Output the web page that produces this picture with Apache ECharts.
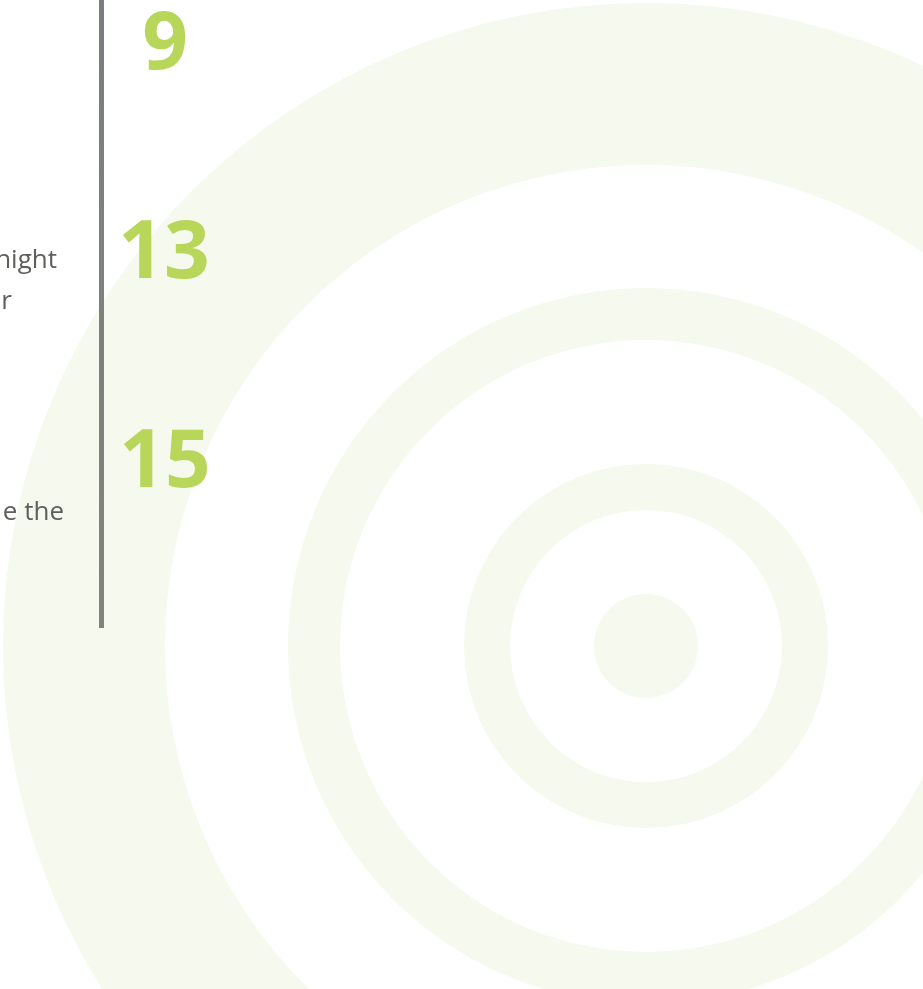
<!DOCTYPE html>
<html>
<head>
<meta charset="utf-8">
<script src="https://cdn.jsdelivr.net/npm/echarts@6/dist/echarts.min.js"></script>
<style>
html,body{margin:0;padding:0;background:#fff;}
#chart{width:923px;height:989px;}
</style>
</head>
<body>
<div id="chart"></div>
<script>
// Values
var statNumbers = ['9', '13', '15'];
var sideTextLines = ['night', 'r', 'e the'];
var ringNames = ['outer', 'middle', 'inner', 'core'];

// Layout (not data)
var ringRadii = [[481, 643], [306, 358], [136, 182], [0, 52]];
var numberPos = [[165, 46], [164, 255], [165, 464]];
var textPos = [[57, 261], [12, 302], [64, 513]];

var chart = echarts.init(document.getElementById('chart'), null, {renderer: 'canvas'});

var series = ringNames.map(function (n, i) {
  return {
    type: 'pie',
    name: n,
    center: [646, 646],
    radius: ringRadii[i],
    silent: true,
    animation: false,
    label: {show: false},
    labelLine: {show: false},
    itemStyle: {color: '#f6f9ee', borderWidth: 0},
    data: [{value: 1, name: n}]
  };
});

var graphics = [{
  type: 'line',
  shape: {x1: 101.5, y1: 0, x2: 101.5, y2: 628},
  style: {
    lineWidth: 5,
    stroke: new echarts.graphic.LinearGradient(0, 0, 0, 1, [
      {offset: 0, color: '#7a7d82'},
      {offset: 1, color: '#80857a'}
    ])
  },
  z: 10
}];

statNumbers.forEach(function (t, i) {
  graphics.push({
    type: 'text',
    x: numberPos[i][0],
    y: numberPos[i][1],
    style: {
      text: t,
      fill: '#b8d65a',
      font: 'bold 80px "Open Sans"',
      align: 'center',
      verticalAlign: 'middle'
    },
    z: 10
  });
});

sideTextLines.forEach(function (t, i) {
  graphics.push({
    type: 'text',
    x: textPos[i][0],
    y: textPos[i][1],
    style: {
      text: t,
      fill: '#5f605c',
      font: '26px "Open Sans"',
      align: 'right',
      verticalAlign: 'middle'
    },
    z: 10
  });
});

chart.setOption({
  backgroundColor: '#ffffff',
  animation: false,
  series: series,
  graphic: graphics
});
</script>
</body>
</html>
